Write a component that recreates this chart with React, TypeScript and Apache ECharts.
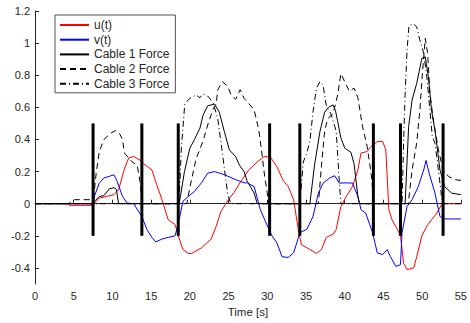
import React, { useEffect, useRef } from "react";
import * as echarts from "echarts";

// ---- Data (time [s], value) ----
const uPoints: [number, number][] = [
  [0, 0], [4.2, 0], [4.4, -0.01], [7.4, -0.01], [7.6, 0.0], [8.3, 0.035], [9.2, 0.045], [10.2, 0.056],
  [10.8, 0.087], [11.5, 0.21], [12.1, 0.285], [12.75, 0.294], [13.6, 0.27], [14.0, 0.25], [15.1, 0.21],
  [15.7, 0.12], [16.4, 0.025], [17.2, -0.1], [18.1, -0.13], [18.5, -0.2], [19.1, -0.285], [19.8, -0.31],
  [20.2, -0.31], [21.5, -0.275], [22.75, -0.22], [23.4, -0.14], [24.0, -0.05], [24.9, 0.02], [25.7, 0.07],
  [26.6, 0.14], [27.6, 0.21], [28.7, 0.26], [29.6, 0.294], [30.4, 0.29], [31.25, 0.23], [32.1, 0.14],
  [32.7, 0.107], [33.4, 0.025], [34.0, -0.16], [34.4, -0.255], [35.5, -0.285], [36.35, -0.31], [37.0, -0.285],
  [37.6, -0.21], [38.5, -0.19], [38.9, -0.16], [39.5, -0.017], [40.2, 0.045], [41.0, 0.107], [41.7, 0.21],
  [42.1, 0.315], [42.9, 0.325], [43.4, 0.356], [44.2, 0.387], [44.9, 0.387], [45.3, 0.335], [45.5, 0.15],
  [45.7, -0.037], [46.1, -0.1], [46.8, -0.16], [47.2, -0.2], [47.6, -0.37], [48.05, -0.41], [48.9, -0.4],
  [49.3, -0.33], [49.96, -0.2], [50.6, -0.14], [51.2, -0.1], [51.9, -0.058], [52.5, -0.006], [52.9, 0.0],
  [55, 0.0],
];

const vPoints: [number, number][] = [
  [0, 0], [7.5, 0], [7.7, 0.05], [8.3, 0.128], [8.9, 0.16], [10.2, 0.18], [10.6, 0.14], [11.3, 0.045],
  [11.9, 0.004], [12.8, 0], [13.0, -0.02], [13.8, -0.08], [14.45, -0.16], [15.1, -0.21], [15.6, -0.238],
  [16.4, -0.22], [17.2, -0.21], [18.1, -0.2], [18.7, -0.08], [19.1, 0.015], [19.8, 0.045], [20.6, 0.077],
  [21.5, 0.13], [22.3, 0.19], [23.2, 0.2], [24.5, 0.18], [25.9, 0.15], [27.0, 0.13], [27.4, 0.13],
  [28.3, 0.107], [29.1, -0.037], [29.75, -0.11], [30.6, -0.2], [31.25, -0.245], [31.9, -0.33], [32.7, -0.335],
  [33.4, -0.305], [33.8, -0.245], [34.2, -0.18], [35.1, -0.16], [35.9, -0.08], [36.6, 0.066], [37.2, 0.128],
  [38.05, 0.16], [38.7, 0.174], [39.3, 0.128], [40.2, 0.13], [41.0, 0.128], [41.7, 0.045], [42.1, -0.037],
  [42.7, -0.058], [43.6, -0.18], [44.2, -0.306], [44.9, -0.317], [45.5, -0.286], [45.9, -0.33], [46.6, -0.39],
  [47.2, -0.38], [47.4, -0.18], [48.05, -0.017], [48.7, 0.025], [49.5, 0.107], [50.2, 0.21], [50.5, 0.27],
  [50.9, 0.19], [51.65, 0.066], [52.3, -0.08], [52.9, -0.095], [55, -0.095],
];

const cable1Points: [number, number][] = [
  [0, 0], [7.5, 0], [7.8, 0.02], [8.3, 0.045], [8.9, 0.05], [9.6, 0.093], [10.2, 0.1], [10.5, 0.09],
  [10.8, 0], [18.6, 0], [18.8, 0.05], [19.3, 0.2], [20.0, 0.346], [20.6, 0.4], [21.3, 0.47], [21.7, 0.55],
  [22.3, 0.61], [23.2, 0.62], [23.8, 0.57], [24.45, 0.45], [25.1, 0.335], [25.9, 0.294], [26.4, 0.24],
  [27.0, 0.2], [27.4, 0.14], [28.3, 0.066], [28.7, 0], [35.5, 0], [36.1, 0.24], [36.8, 0.45], [37.4, 0.57],
  [37.9, 0.6], [38.5, 0.615], [38.8, 0.58], [39.1, 0.51], [39.5, 0.41], [40.0, 0.346], [40.8, 0.32],
  [41.2, 0.25], [41.7, 0.045], [41.9, 0], [47.8, 0], [48.25, 0.48], [48.7, 0.646], [49.3, 0.75],
  [49.96, 0.905], [50.4, 0.915], [50.8, 0.79], [51.2, 0.585], [51.7, 0.44], [52.3, 0.21], [52.9, 0.107],
  [53.8, 0.066], [55, 0.056],
];

const cable2Points: [number, number][] = [
  [0, 0], [4.3, 0], [4.7, 0.015], [5.1, 0.025], [7.45, 0.025], [7.6, 0.05], [7.9, 0.19], [8.3, 0.325],
  [8.9, 0.4], [9.8, 0.44], [10.4, 0.455], [10.85, 0.443], [11.3, 0.4], [11.55, 0.315], [12.55, 0.26],
  [13.2, 0.24], [13.6, 0.128], [13.8, 0], [19.6, 0], [20.0, 0.1], [20.8, 0.28], [21.7, 0.39], [22.3, 0.49],
  [23.0, 0.59], [23.4, 0.62], [23.6, 0.71], [24.2, 0.76], [24.9, 0.73], [25.3, 0.68], [25.9, 0.65],
  [26.5, 0.71], [27.0, 0.656], [27.6, 0.625], [28.3, 0.584], [28.9, 0.46], [29.3, 0.315], [29.55, 0.21],
  [30.0, 0.066], [30.1, 0], [36.6, 0], [37.0, 0.24], [37.4, 0.45], [37.8, 0.53], [38.5, 0.56], [39.1, 0.68],
  [39.5, 0.81], [40.0, 0.76], [40.6, 0.7], [41.2, 0.72], [41.7, 0.66], [42.3, 0.48], [42.9, 0.356],
  [43.4, 0.19], [43.7, 0.045], [43.8, 0], [48.2, 0], [48.7, 0.21], [49.3, 0.38], [49.7, 0.58], [50.0, 0.79],
  [50.4, 1.03], [50.7, 0.94], [51.0, 0.69], [51.45, 0.52], [52.1, 0.335], [52.7, 0.21], [53.4, 0.17],
  [54.2, 0.15], [55, 0.145],
];

const cable3Points: [number, number][] = [
  [0, 0], [18.6, 0], [18.9, 0.346], [19.35, 0.625], [20.0, 0.656], [20.8, 0.677], [21.3, 0.66],
  [21.7, 0.683], [22.3, 0.67], [23.0, 0.63], [23.6, 0.53], [24.0, 0.39], [24.45, 0.22], [24.9, 0.056],
  [25.3, 0], [34.2, 0], [34.65, 0.26], [35.1, 0.315], [35.5, 0.39], [35.9, 0.57], [36.35, 0.72], [36.8, 0.76],
  [37.2, 0.74], [37.6, 0.615], [38.2, 0.56], [38.6, 0.5], [38.9, 0.45], [39.3, 0.14], [39.5, 0], [47.4, 0],
  [47.6, 0.377], [47.8, 0.687], [48.05, 0.956], [48.3, 1.11], [48.9, 1.12], [49.3, 1.1], [49.7, 1.02],
  [50.2, 0.936], [50.6, 0.79], [51.0, 0.585], [51.3, 0.42], [51.65, 0.377], [52.1, 0.21], [52.5, 0.045],
  [52.7, 0], [55, 0],
];

// Vertical event markers
const markerTimes = [7.5, 13.8, 18.5, 30.3, 34.2, 43.7, 47.2, 52.7];
const markerLow = -0.2;
const markerHigh = 0.5;

const yTicks = [-0.4, -0.2, 0, 0.2, 0.4, 0.6, 0.8, 1, 1.2];

const FONT = "Liberation Sans, Arial, Helvetica, sans-serif";
const AXIS_COLOR = "#262626";

export default function App() {
  const ref = useRef<HTMLDivElement>(null);

  useEffect(() => {
    if (!ref.current) return;
    const chart = echarts.init(ref.current, null, { renderer: "svg" });

    const lineSeries = (name: string, data: [number, number][], color: string, type: any) => ({
      name,
      type: "line",
      data,
      showSymbol: false,
      symbol: "none",
      smooth: false,
      lineStyle: { color, width: 1, type },
      itemStyle: { color },
      z: 3,
    });

    chart.setOption({
      animation: false,
      backgroundColor: "#fff",
      textStyle: { fontFamily: FONT },
      grid: { left: 35, right: 4, top: 11, bottom: 38.5, containLabel: false },
      legend: {
        orient: "vertical",
        left: 55,
        top: 15,
        padding: [4, 6, 3, 4],
        itemGap: 2.7,
        itemWidth: 29,
        itemHeight: 10,
        backgroundColor: "#fff",
        borderColor: AXIS_COLOR,
        borderWidth: 0.8,
        itemStyle: { color: "transparent", borderWidth: 0, opacity: 0 },
        textStyle: { fontSize: 12, color: AXIS_COLOR, fontFamily: FONT, lineHeight: 11 },
        data: ["u(t)", "v(t)", "Cable 1 Force", "Cable 2 Force", "Cable 3 Force"],
      },
      xAxis: {
        type: "value",
        min: 0,
        max: 55,
        interval: 5,
        name: "Time [s]",
        nameLocation: "middle",
        nameGap: 22,
        nameTextStyle: { fontSize: 11.5, color: AXIS_COLOR, fontFamily: FONT },
        axisLine: { show: true, lineStyle: { color: AXIS_COLOR, width: 1 } },
        axisTick: { show: true, inside: true, length: 4, lineStyle: { color: AXIS_COLOR } },
        axisLabel: { fontSize: 11, color: AXIS_COLOR, margin: 6, fontFamily: FONT },
        splitLine: { show: false },
      },
      yAxis: {
        type: "value",
        min: -0.5,
        max: 1.2,
        axisLine: { show: true, lineStyle: { color: AXIS_COLOR, width: 1 } },
        axisTick: { show: true, inside: true, length: 4, customValues: yTicks, lineStyle: { color: AXIS_COLOR } },
        axisLabel: {
          fontSize: 11,
          color: AXIS_COLOR,
          margin: 5,
          fontFamily: FONT,
          customValues: yTicks,
          formatter: (v: number) => String(Math.round(v * 10) / 10),
        },
        splitLine: { show: false },
      },
      series: [
        lineSeries("u(t)", uPoints, "#ff0000", "solid"),
        lineSeries("v(t)", vPoints, "#0000ff", "solid"),
        lineSeries("Cable 1 Force", cable1Points, "#000000", "solid"),
        lineSeries("Cable 2 Force", cable2Points, "#000000", [6, 4]),
        lineSeries("Cable 3 Force", cable3Points, "#000000", [6, 3, 1, 3]),
        {
          name: "markers",
          type: "custom",
          data: markerTimes.map((t) => [t, markerLow, markerHigh]),
          encode: { x: 0, y: [1, 2] },
          z: 4,
          renderItem: (_params: any, api: any) => {
            const p1 = api.coord([api.value(0), api.value(1)]);
            const p2 = api.coord([api.value(0), api.value(2)]);
            return {
              type: "line",
              shape: { x1: p1[0], y1: p1[1], x2: p2[0], y2: p2[1] },
              style: { stroke: "#000", lineWidth: 3 },
            };
          },
        },
      ],
    });

    return () => chart.dispose();
  }, []);

  return (
    <div
      ref={ref}
      style={{ position: "fixed", left: 0, top: 0, width: 470, height: 323, background: "#fff" }}
    />
  );
}
